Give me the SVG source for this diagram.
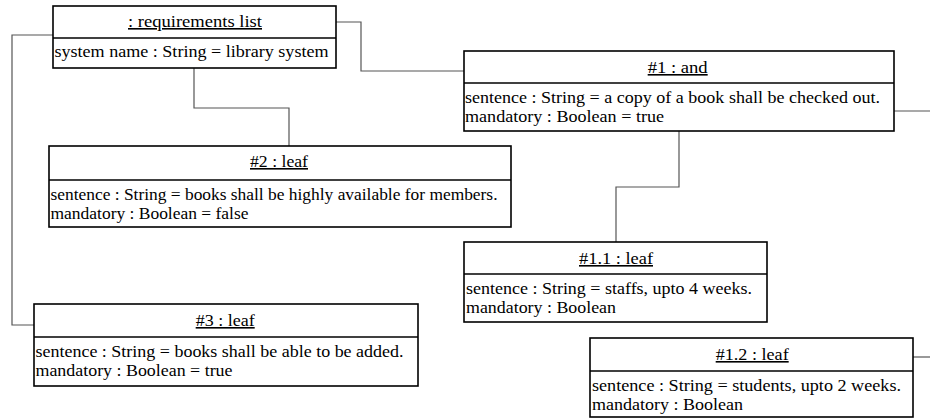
<svg xmlns="http://www.w3.org/2000/svg" width="930" height="419" viewBox="0 0 930 419">
<style>
.box{fill:#fff;stroke:#000;stroke-width:1.6}
.div{stroke:#000;stroke-width:1.6}
.conn{fill:none;stroke:#555;stroke-width:1.2}
text{font-family:"Liberation Serif","Times New Roman",serif;font-size:16px;fill:#000}
.title{text-decoration:underline}
</style>
<rect width="930" height="419" fill="#fff"/>
<g id="connectors">
<path class="conn" d="M53,35 H12 V325 H34"/>
<path class="conn" d="M194,68 V108 H289 V146"/>
<path class="conn" d="M336,22 H361 V71 H464"/>
<path class="conn" d="M894,111 H932"/>
<path class="conn" d="M679,131 V187 H616 V242"/>
<path class="conn" d="M913,357 H932"/>
</g>
<g id="requirements-list">
<rect class="box" x="53" y="6" width="283" height="62"/>
<line class="div" x1="53" y1="38" x2="336" y2="38"/>
<text class="title" x="128" y="27" textLength="134" lengthAdjust="spacingAndGlyphs">: requirements list</text>
<text x="54.5" y="57" textLength="274" lengthAdjust="spacingAndGlyphs">system name : String = library system</text>
</g>
<g id="n1">
<rect class="box" x="464" y="51" width="430" height="80"/>
<line class="div" x1="464" y1="83" x2="894" y2="83"/>
<text class="title" x="647.7" y="73" textLength="60" lengthAdjust="spacingAndGlyphs">#1 : and</text>
<text x="465" y="103" textLength="415" lengthAdjust="spacingAndGlyphs">sentence : String = a copy of a book shall be checked out.</text>
<text x="465" y="122" textLength="199" lengthAdjust="spacingAndGlyphs">mandatory : Boolean = true</text>
</g>
<g id="n2">
<rect class="box" x="49" y="146" width="462" height="81"/>
<line class="div" x1="49" y1="180" x2="511" y2="180"/>
<text class="title" x="250" y="167" textLength="58" lengthAdjust="spacingAndGlyphs">#2 : leaf</text>
<text x="50.5" y="200" textLength="447" lengthAdjust="spacingAndGlyphs">sentence : String = books shall be highly available for members.</text>
<text x="50.5" y="219" textLength="198" lengthAdjust="spacingAndGlyphs">mandatory : Boolean = false</text>
</g>
<g id="n3">
<rect class="box" x="34" y="304" width="384" height="82"/>
<line class="div" x1="34" y1="337" x2="418" y2="337"/>
<text class="title" x="195.7" y="326" textLength="59" lengthAdjust="spacingAndGlyphs">#3 : leaf</text>
<text x="35.5" y="357" textLength="368" lengthAdjust="spacingAndGlyphs">sentence : String = books shall be able to be added.</text>
<text x="35.5" y="376" textLength="197" lengthAdjust="spacingAndGlyphs">mandatory : Boolean = true</text>
</g>
<g id="n1-1">
<rect class="box" x="464" y="242" width="303" height="80"/>
<line class="div" x1="464" y1="274" x2="767" y2="274"/>
<text class="title" x="579" y="264" textLength="74" lengthAdjust="spacingAndGlyphs">#1.1 : leaf</text>
<text x="466" y="294" textLength="286" lengthAdjust="spacingAndGlyphs">sentence : String = staffs, upto 4 weeks.</text>
<text x="466" y="313" textLength="150" lengthAdjust="spacingAndGlyphs">mandatory : Boolean</text>
</g>
<g id="n1-2">
<rect class="box" x="590" y="338" width="323" height="79"/>
<line class="div" x1="590" y1="371" x2="913" y2="371"/>
<text class="title" x="715.7" y="360" textLength="73" lengthAdjust="spacingAndGlyphs">#1.2 : leaf</text>
<text x="592" y="391" textLength="309" lengthAdjust="spacingAndGlyphs">sentence : String = students, upto 2 weeks.</text>
<text x="592" y="410" textLength="151" lengthAdjust="spacingAndGlyphs">mandatory : Boolean</text>
</g>
</svg>
